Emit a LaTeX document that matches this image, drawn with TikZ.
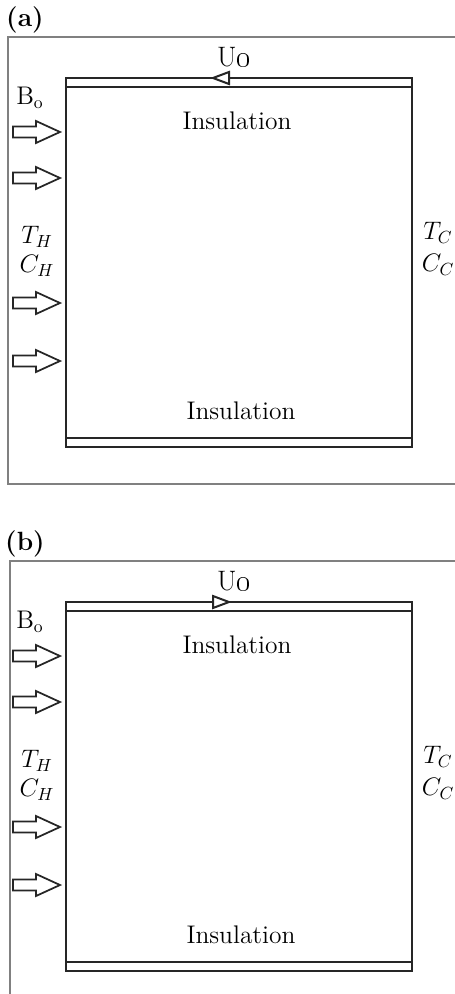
\documentclass[tikz,border=0pt]{standalone}
\tikzset{
  wall/.style={line width=0.04cm, draw=black!85},
  frame/.style={line width=0.045cm, draw=black!50},
  fluxline/.style={line width=0.035cm, draw=black!85, fill=white, line join=miter},
  fluxarrow/.pic={
    \draw[fluxline] (0,0) -- (-24,-11) -- (-24,-5.5) -- (-47,-5.5)
      -- (-47,5.5) -- (-24,5.5) -- (-24,11) -- cycle;
  },
  lbl/.style={font=\fontsize{14.5}{17}\selectfont, inner sep=0pt},
  tag/.style={font=\fontsize{15}{18}\selectfont\bfseries, inner sep=0pt}
}

\begin{document}
\begin{tikzpicture}[x=0.02cm, y=-0.02cm]
  \useasboundingbox (0,0) rectangle (455,994);
  % outer frames, open to the right
  \draw[frame] (460,37) -- (8,37) -- (8,484) -- (460,484);
  \draw[frame] (460,561) -- (10,561) -- (10,1000);
  \foreach \pl/\dy/\dir in {a/0/-1, b/524/1}{
    \begin{scope}[shift={(0,\dy)}]
      \node[tag] (tag-\pl) at (25,20) {(\pl)};
      % channel walls
      \draw[wall] (66,87) -- (66,78) -- (412,78) -- (412,447) -- (66,447) -- cycle;
      \draw[wall] (66,87) -- (412,87);
      \draw[wall] (66,438) -- (412,438);
      % moving lid
      \draw[wall, fill=white] ({221+8*\dir},78) -- ({221-8*\dir},72) -- ({221-8*\dir},84) -- cycle;
      \node[lbl, font=\fontsize{16}{19}\selectfont] (lid-\pl) at (234,57) {U\oldstylenums{0}};
      \node[lbl] (ins-top-\pl) at (237,121) {Insulation};
      \node[lbl] (ins-bot-\pl) at (241,411) {Insulation};
      \node[lbl] (field-\pl) at (30,98) {B$_{\mathrm{o}}$};
      \node[lbl] (th-\pl) at (37,237) {$T_H$};
      \node[lbl] (ch-\pl) at (37,266) {$C_H$};
      \node[lbl] (tc-\pl) at (438,233) {$T_C$};
      \node[lbl] (cc-\pl) at (438,265) {$C_C$};
      \foreach \k/\yy in {1/132, 2/178, 3/303, 4/361}
        \pic (flux-\pl\k) at (60,\yy) {fluxarrow};
    \end{scope}
  }
\end{tikzpicture}
\end{document}
